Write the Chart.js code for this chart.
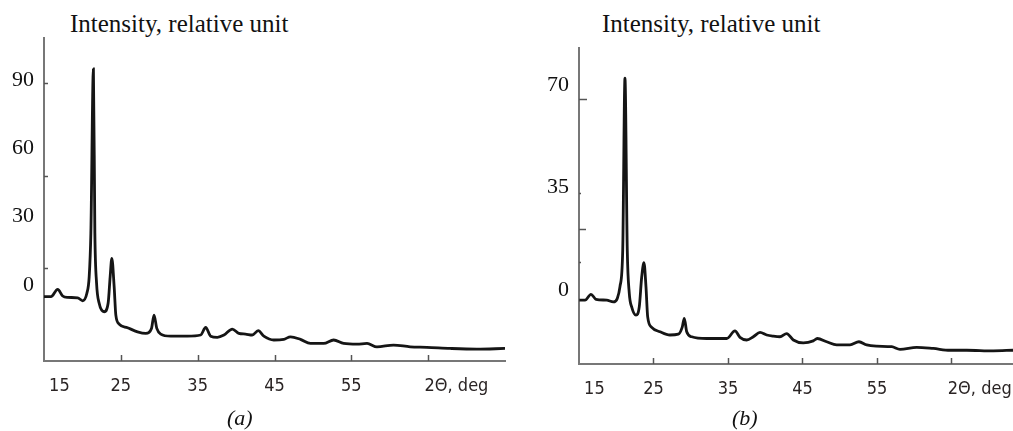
<!DOCTYPE html>
<html>
<head>
<meta charset="utf-8">
<script src="https://cdn.jsdelivr.net/npm/chart.js@4.4.1/dist/chart.umd.min.js"></script>
<style>
  body { margin: 0; background: #fff; width: 1013px; height: 431px; overflow: hidden; position: relative; font-family: 'Liberation Serif', serif; }
  .box { position: absolute; top: 0; height: 431px; }
  .ttl { position: absolute; top: 11px; font-size: 25px; line-height: 25px; color: #111; white-space: nowrap; }
  .cap { position: absolute; top: 407px; font-size: 22px; line-height: 22px; font-style: italic; color: #111; }
</style>
</head>
<body>
<div class="ttl" style="left:70px">Intensity, relative unit</div>
<div class="ttl" style="left:602px">Intensity, relative unit</div>
<div class="box" style="left:0;width:512px"><canvas id="chartA"></canvas></div>
<div class="box" style="left:540px;width:473px"><canvas id="chartB"></canvas></div>
<div class="cap" style="left:227px">(a)</div>
<div class="cap" style="left:732px">(b)</div>
<script>
// 2θ (deg) and intensity
const twoThetaA = [15.0, 15.91, 16.78, 17.43, 18.08, 19.38, 20.03, 20.58, 20.88, 21.10, 21.43, 21.62, 21.84, 22.18, 22.83, 23.35, 23.61, 23.83, 24.13, 24.35, 24.78, 25.87, 27.17, 28.25, 28.99, 29.32, 29.68, 30.19, 31.49, 33.66, 35.39, 36.04, 36.69, 37.56, 38.42, 39.51, 40.36, 41.23, 42.10, 42.88, 43.61, 44.91, 46.21, 47.08, 48.38, 49.68, 51.40, 52.70, 54.00, 55.74, 57.04, 58.34, 60.49, 62.66, 64.83, 67.86, 71.32, 75.0];
const intensityA = [-5.1, -5.1, -1.9, -4.8, -5.4, -5.6, -6.9, -3.6, 3.6, 22.8, 94.7, 22.8, 0.9, -8.0, -11.7, -7.9, 3.6, 11.7, -0.7, -13.2, -17.1, -18.7, -20.5, -21.2, -19.0, -13.2, -19.0, -21.5, -22.4, -22.4, -21.9, -18.6, -22.4, -22.9, -21.9, -19.3, -21.2, -21.5, -21.9, -20.0, -22.4, -24.1, -23.8, -22.7, -23.8, -25.6, -25.6, -24.1, -25.6, -25.9, -25.6, -27.1, -26.3, -27.1, -27.3, -27.8, -28.1, -27.8];

const twoThetaB = [15.04, 15.81, 16.61, 17.28, 18.72, 19.60, 20.14, 20.50, 20.87, 21.17, 21.48, 21.75, 22.07, 22.65, 23.09, 23.42, 23.72, 23.99, 24.22, 24.76, 25.87, 27.21, 28.33, 28.87, 29.13, 29.46, 30.13, 32.14, 34.83, 35.94, 36.61, 37.51, 38.40, 39.30, 40.20, 41.09, 41.98, 42.88, 43.77, 45.11, 46.45, 46.99, 48.25, 49.59, 51.38, 52.58, 53.62, 54.96, 56.97, 58.09, 60.33, 62.56, 64.80, 67.04, 70.61, 73.26];
const intensityB = [-3.5, -3.5, -1.5, -3.2, -3.5, -4.1, -2.9, 1.1, 13.6, 72.3, 13.6, -1.2, -5.8, -8.6, -5.8, 4.5, 9.3, 1.1, -9.2, -12.8, -14.3, -15.4, -15.1, -12.6, -9.7, -14.3, -16.0, -16.6, -16.6, -14.0, -16.2, -17.1, -16.0, -14.5, -15.4, -15.8, -16.0, -14.9, -17.1, -18.1, -17.4, -16.6, -17.7, -18.8, -18.8, -17.7, -18.8, -19.2, -19.4, -20.3, -19.6, -20.0, -20.6, -20.6, -20.8, -20.6];

const xTickValues = [15, 25, 35, 45, 55, 65];
const xTickLabels = ['15', '25', '35', '45', '55', '2\u0398, deg'];
const yTicksA = [0, 30, 60, 90];
const yTicksB = [0, 35, 70];
// short marks on the vertical axes (they do not sit on the labels in the original)
const yMarksA = [88.6, 47.8, 7.5];
const yMarksB = [65.1, 33.1, 20.8, 9.5];

const tickMarks = {
  id: 'tickMarks',
  afterDraw(chart, args, opts) {
    const {ctx, chartArea} = chart;
    const x = chart.scales.x, y = chart.scales.y;
    ctx.save();
    ctx.strokeStyle = '#555';
    ctx.lineWidth = 1.5;
    x.ticks.forEach((t, i) => {
      if (i === 0) return;
      const px = Math.round(x.getPixelForValue(t.value)) + 0.5;
      ctx.beginPath();
      ctx.moveTo(px, chartArea.bottom);
      ctx.lineTo(px, chartArea.bottom - 6);
      ctx.stroke();
    });
    opts.marks.forEach((v, i) => {
      const py = Math.round(y.getPixelForValue(v)) + 0.5;
      ctx.beginPath();
      ctx.moveTo(chartArea.left, py);
      ctx.lineTo(chartArea.left + opts.lens[i], py);
      ctx.stroke();
    });
    ctx.restore();
  }
};

function pad(label, i) {
  // nudge the first and last labels like the scan
  if (i === 0) return '\u00a0'.repeat(6) + label;
  if (i === xTickLabels.length - 1) return '\u00a0'.repeat(11) + label;
  return label;
}

function makeChart(id, xs, ys, yTicks, yMin, yMax, xMax, yAxisW, padding, marks, lens) {
  const ctx = document.getElementById(id).getContext('2d');
  return new Chart(ctx, {
    type: 'line',
    data: {
      datasets: [{
        data: xs.map((v, i) => ({x: v, y: ys[i]})),
        borderColor: '#151515',
        borderWidth: 2.8,
        pointRadius: 0,
        cubicInterpolationMode: 'monotone',
        fill: false
      }]
    },
    options: {
      responsive: true,
      maintainAspectRatio: false,
      animation: false,
      layout: { padding: padding },
      plugins: {
        legend: { display: false },
        tooltip: { enabled: false },
        tickMarks: { marks: marks, lens: lens }
      },
      scales: {
        x: {
          type: 'linear',
          min: 15,
          max: xMax,
          grid: { display: false, drawTicks: false },
          border: { color: '#777', width: 2 },
          afterBuildTicks: s => { s.ticks = xTickValues.map(v => ({value: v})); },
          afterFit: s => { s.height = 40; s.paddingLeft = 0; s.paddingRight = 0; },
          ticks: {
            autoSkip: false,
            maxRotation: 0,
            padding: 15,
            color: '#2a2424',
            font: { family: "'Liberation Sans Narrow', 'DejaVu Sans Condensed', sans-serif", size: 18 },
            callback: (v, i) => pad(xTickLabels[i], i)
          }
        },
        y: {
          min: yMin,
          max: yMax,
          grid: { display: false, drawTicks: false },
          border: { color: '#777', width: 2 },
          afterBuildTicks: s => { s.ticks = yTicks.map(v => ({value: v})); },
          afterFit: s => { s.width = yAxisW; },
          ticks: {
            autoSkip: false,
            padding: 10,
            color: '#111',
            font: { family: "'Liberation Serif', serif", size: 22 }
          }
        }
      }
    },
    plugins: [tickMarks]
  });
}

makeChart('chartA', twoThetaA, intensityA, yTicksA, -33.3, 108.3, 75, 44,
  {top: 38, bottom: 30, left: 0, right: 7}, yMarksA, [4, 4, 4]);
makeChart('chartB', twoThetaB, intensityB, yTicksB, -25.3, 82.6, 73.26, 39,
  {top: 48, bottom: 27, left: 0, right: 0}, yMarksB, [8, 2, 7, 2]);
</script>
</body>
</html>
